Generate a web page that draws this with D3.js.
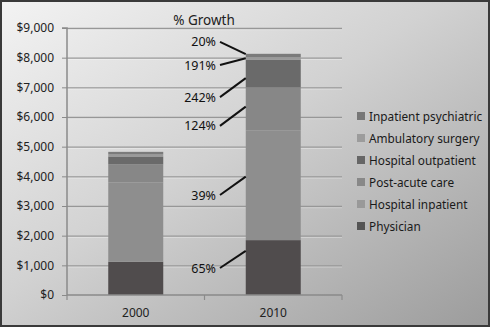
<!DOCTYPE html>
<html><head><meta charset="utf-8">
<script src="https://cdn.jsdelivr.net/npm/d3@7"></script>
<style>html,body{margin:0;padding:0;overflow:hidden;}svg{display:block;}</style>
</head><body>
<svg id="c" width="490" height="327"></svg>
<script>
const years = ["2000", "2010"];
const seriesNames = ["Physician", "Hospital inpatient", "Post-acute care", "Hospital outpatient", "Ambulatory surgery", "Inpatient psychiatric"];
const physician = [1120, 1850];
const hospitalInpatient = [2670, 3700];
const postAcute = [620, 1450];
const hospitalOutpatient = [260, 940];
const ambulatorySurgery = [65, 80];
const inpatientPsychiatric = [90, 110];
const yTicks = [0, 1000, 2000, 3000, 4000, 5000, 6000, 7000, 8000, 9000];
const growthLabels = ["65%", "39%", "124%", "242%", "191%", "20%"];
const growthAnchor = [1490, 3990, 6350, 7310, 7980, 8120];
const growthLabelAt = [910, 3370, 5700, 6670, 7750, 8530];

const colors = ["#504c4d", "#8e8e8e", "#878787", "#6a6a6a", "#9a9a9a", "#7b7b7b"];
const legendColors = ["#545454", "#999999", "#888888", "#666666", "#9c9c9c", "#777777"];

const svg = d3.select("#c");
const W = 490, H = 327;
const defs = svg.append("defs");
const g0 = defs.append("linearGradient").attr("id","bg").attr("x1","0").attr("y1","0").attr("x2","1").attr("y2","1");
g0.append("stop").attr("offset","0").attr("stop-color","#f3f3f3");
g0.append("stop").attr("offset","0.45").attr("stop-color","#d2d2d2");
g0.append("stop").attr("offset","1").attr("stop-color","#9c9c9c");
svg.append("rect").attr("x",1).attr("y",1).attr("width",W-2).attr("height",H-2).attr("fill","url(#bg)").attr("stroke","#3a3a3a").attr("stroke-width",2);

const font = "'Noto Sans', 'Open Sans', sans-serif";
const m = {l: 67, r: 342, t: 28, b: 295};
const y = d3.scaleLinear().domain([0, 9000]).range([m.b, m.t]);
const x = d3.scaleBand().domain(years).range([m.l, m.r]).paddingInner(0.6).paddingOuter(0.3);

// gridlines
svg.append("g").selectAll("line").data(yTicks.filter(d=>d>0)).join("line")
  .attr("x1", m.l).attr("x2", m.r).attr("y1", d=>y(d)+0.5).attr("y2", d=>y(d)+0.5)
  .attr("stroke", "#979797").attr("stroke-width", 1.3);
svg.append("g").selectAll("line").data(yTicks.filter(d=>d>0)).join("line")
  .attr("x1", m.l).attr("x2", m.r).attr("y1", d=>y(d)+1.7).attr("y2", d=>y(d)+1.7)
  .attr("stroke", "#ffffff").attr("stroke-opacity",0.35).attr("stroke-width", 1);

// stacked bars
const rows = years.map((yr,i)=>({year: yr, "Physician": physician[i], "Hospital inpatient": hospitalInpatient[i],
  "Post-acute care": postAcute[i], "Hospital outpatient": hospitalOutpatient[i],
  "Ambulatory surgery": ambulatorySurgery[i], "Inpatient psychiatric": inpatientPsychiatric[i]}));
const stacked = d3.stack().keys(seriesNames)(rows);
const bw = 55;
svg.append("g").selectAll("g").data(stacked).join("g").attr("fill", (d,i)=>colors[i])
  .selectAll("rect").data(d=>d).join("rect")
  .attr("x", d=>x(d.data.year) + x.bandwidth()/2 - bw/2).attr("width", bw)
  .attr("y", d=>y(d[1])).attr("height", d=>y(d[0]) - y(d[1]));

// axes
const yAxis = d3.axisLeft(y).tickValues(yTicks).tickSize(5).tickFormat(d=>"$"+d3.format(",")(d));
const ya = svg.append("g").attr("transform", `translate(${m.l},0)`).call(yAxis);
ya.select(".domain").attr("stroke","#8a8a8a").attr("stroke-width",1.5).attr("d", `M-5,${m.t}H0V${m.b}`);
ya.selectAll(".tick line").attr("stroke","#8a8a8a");
ya.selectAll("text").attr("font-family", font).attr("font-size", 12).attr("fill","#222").attr("x",-13);

svg.append("line").attr("x1", m.l).attr("x2", m.r).attr("y1", m.b).attr("y2", m.b).attr("stroke","#8a8a8a").attr("stroke-width",1.5);
const xTickPos = [m.l, (m.l+m.r)/2, m.r];
svg.append("g").selectAll("line").data(xTickPos).join("line")
  .attr("x1", d=>d).attr("x2", d=>d).attr("y1", m.b).attr("y2", m.b+5).attr("stroke","#8a8a8a").attr("stroke-width",1.2);
svg.append("g").selectAll("text").data(years).join("text")
  .attr("x", d=>x(d)+x.bandwidth()/2).attr("y", 317).attr("text-anchor","middle")
  .attr("font-family", font).attr("font-size", 12).attr("fill","#222").text(d=>d);

// title
svg.append("text").attr("x", 204).attr("y", 25).attr("text-anchor","middle")
  .attr("font-family", font).attr("font-size", 13.5).attr("fill","#222").text("% Growth");

// growth annotations
const barLeft = x("2010") + x.bandwidth()/2 - bw/2;
const ann = svg.append("g");
growthLabels.forEach((lab,i)=>{
  const ly = y(growthLabelAt[i]);
  ann.append("line").attr("x1", 220).attr("y1", ly).attr("x2", barLeft).attr("y2", y(growthAnchor[i]))
    .attr("stroke","#111").attr("stroke-width",2);
  ann.append("text").attr("x", 216).attr("y", ly + 4.5).attr("text-anchor","end")
    .attr("font-family", font).attr("font-size", 12.5).attr("fill","#111").text(lab);
});

// legend
const legendOrder = seriesNames.map((s,i)=>i).reverse();
const lg = svg.append("g");
legendOrder.forEach((si,k)=>{
  const cy = 116 + k*22;
  lg.append("rect").attr("x", 357).attr("y", cy-4).attr("width", 8).attr("height", 8).attr("fill", legendColors[si]);
  lg.append("text").attr("x", 369).attr("y", cy+4.5).attr("font-family", font).attr("font-size", 11.8)
    .attr("fill","#1a1a1a").text(seriesNames[si]);
});
</script>
</body></html>
